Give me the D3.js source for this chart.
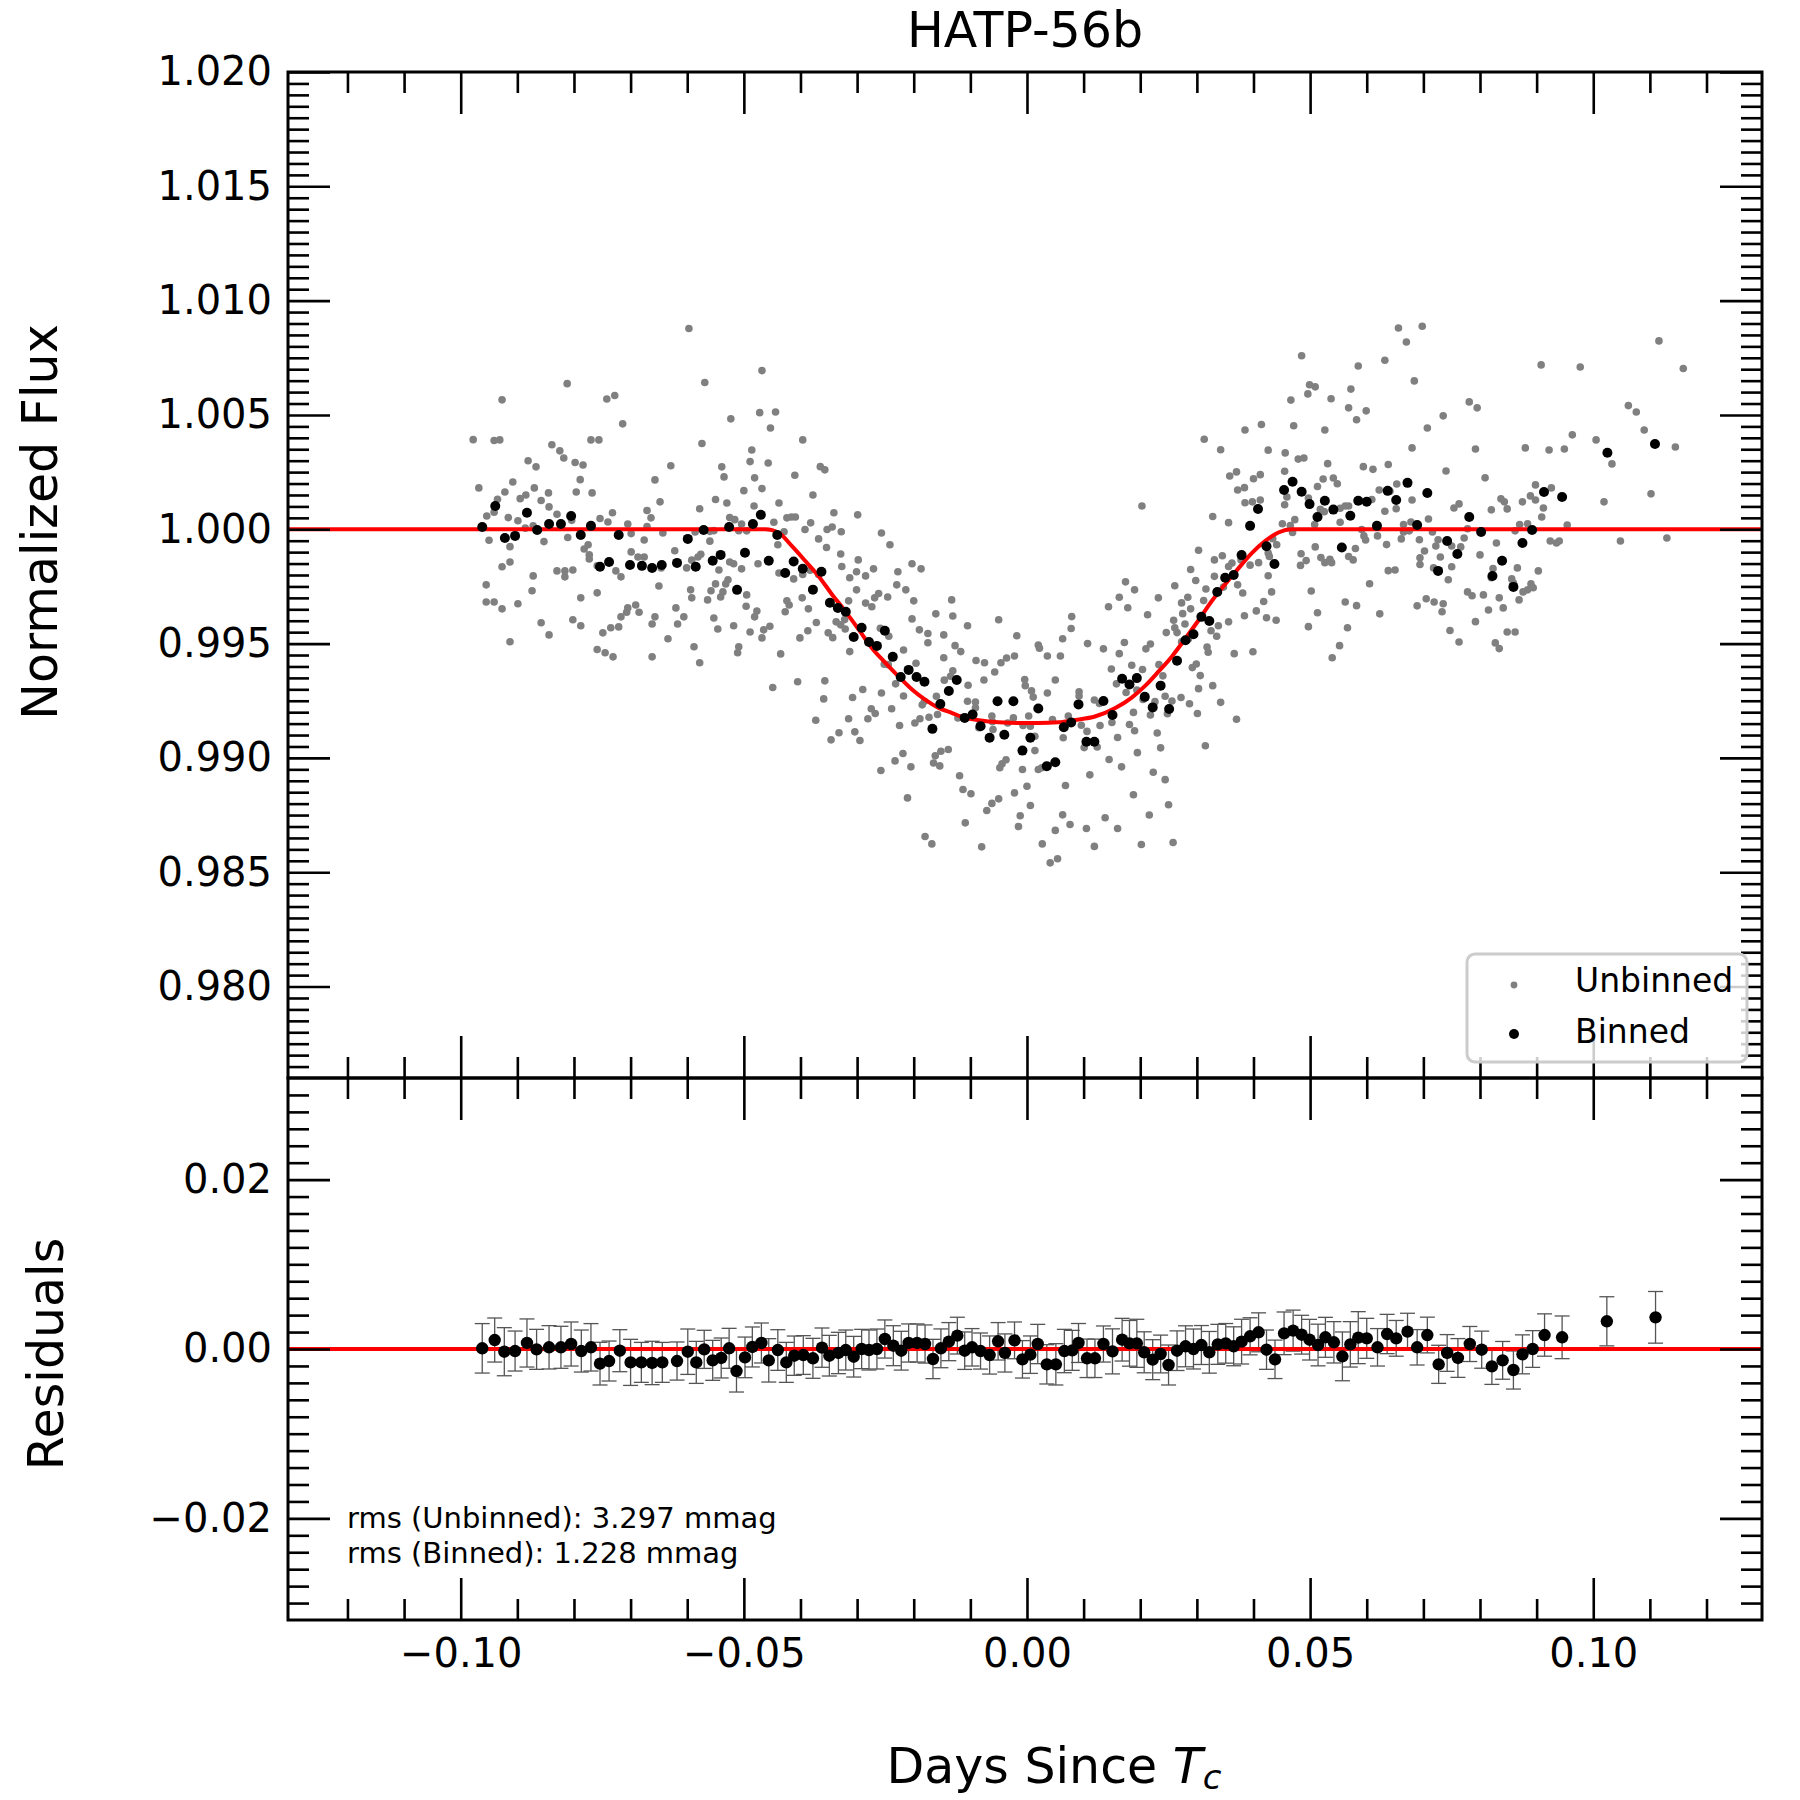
<!DOCTYPE html>
<html><head><meta charset="utf-8">
<script src="https://cdn.jsdelivr.net/npm/d3@7"></script>
<style>body{margin:0;background:#fff} svg{display:block} text{font-family:"DejaVu Sans",sans-serif}</style>
</head><body><svg id="c" width="1800" height="1800"></svg>
<script>
const titleText = "HATP-56b";
const xLim = [-0.1305, 0.1298];
const fluxLim = [0.976, 1.020];
const resLim = [-0.032, 0.032];
const xTicks = [-0.10, -0.05, 0.00, 0.05, 0.10];
const fluxTicks = [0.980, 0.985, 0.990, 0.995, 1.000, 1.005, 1.010, 1.015, 1.020];
const resTicks = [-0.02, 0.00, 0.02];
const legendLabels = ["Unbinned", "Binned"];
const rmsLines = ["rms (Unbinned): 3.297 mmag", "rms (Binned): 1.228 mmag"];

// unbinned [time, flux]
const unbinned = [
[-0.0597,1.00878],[-0.0468,1.00694],[-0.0569,1.00642],[-0.0812,1.00637],[-0.0927,1.00566],[-0.0728,1.00585],[-0.0742,1.00570],[-0.0472,1.00510],[-0.0523,1.00483],[-0.0714,1.00461],[-0.0978,1.00392],[-0.0941,1.00388],[-0.0931,1.00391],[-0.0770,1.00391],[-0.0756,1.00391],[-0.0574,1.00375],[-0.0839,1.00370],[-0.0825,1.00343],[-0.0486,1.00347],[-0.0818,1.00312],[-0.0881,1.00300],[-0.0489,1.00296],[-0.0867,1.00273],[-0.0798,1.00292],[-0.0784,1.00281],[-0.0629,1.00278],[-0.0539,1.00273],[-0.0535,1.00229],[-0.0481,1.00225],[-0.0789,1.00217],[-0.0657,1.00216],[-0.0968,1.00181],[-0.0908,1.00207],[-0.0922,1.00163],[-0.0870,1.00181],[-0.0845,1.00159],[-0.0796,1.00163],[-0.0768,1.00159],[-0.0500,1.00169],[-0.0468,1.00178],[-0.0895,1.00134],[-0.0885,1.00150],[-0.0935,1.00131],[-0.0858,1.00126],[-0.0550,1.00130],[-0.0530,1.00115],[-0.0648,1.00120],[-0.0482,1.00102],[-0.0941,1.00075],[-0.0844,1.00098],[-0.0954,1.00058],[-0.0830,1.00066],[-0.0732,1.00072],[-0.0671,1.00082],[-0.0664,1.00050],[-0.0578,1.00090],[-0.0916,1.00051],[-0.0899,1.00037],[-0.0754,1.00047],[-0.0740,1.00032],[-0.0525,1.00051],[-0.0516,1.00042],[-0.0504,1.00023],[-0.0886,1.00005],[-0.0872,1.00015],[-0.0804,1.00039],[-0.0705,1.00023],[-0.0671,1.00012],[-0.0509,0.99994],[-0.0495,0.99993],[-0.0643,0.99984],[-0.0586,0.99988],[-0.0560,0.99991],[-0.0553,0.99994],[-0.0950,0.99952],[-0.0853,0.99946],[-0.0811,0.99964],[-0.0699,0.99981],[-0.0676,0.99953],[-0.0913,0.99924],[-0.0775,0.99932],[-0.0782,0.99914],[-0.0773,0.99888],[-0.0773,0.99870],[-0.0622,0.99906],[-0.0699,0.99901],[-0.0687,0.99879],[-0.0676,0.99879],[-0.0576,0.99891],[-0.0581,0.99879],[-0.0592,0.99865],[-0.0560,0.99948],[-0.0927,0.99836],[-0.0913,0.99857],[-0.0830,0.99818],[-0.0816,0.99818],[-0.0816,0.99792],[-0.0802,0.99822],[-0.0759,0.99840],[-0.0726,0.99818],[-0.0717,0.99792],[-0.0646,0.99831],[-0.0601,0.99831],[-0.0544,0.99822],[-0.0525,0.99857],[-0.0518,0.99849],[-0.0504,0.99827],[-0.0475,0.99849],[-0.0872,0.99796],[-0.0955,0.99757],[-0.0650,0.99752],[-0.0594,0.99735],[-0.0550,0.99761],[-0.0537,0.99726],[-0.0528,0.99779],[-0.0532,0.99761],[-0.0874,0.99731],[-0.0955,0.99682],[-0.0941,0.99682],[-0.0927,0.99652],[-0.0899,0.99674],[-0.0788,0.99700],[-0.0759,0.99722],[-0.0592,0.99700],[-0.0564,0.99691],[-0.0558,0.99731],[-0.0541,0.99704],[-0.0495,0.99713],[-0.0496,0.99663],[-0.0705,0.99656],[-0.0691,0.99669],[-0.0685,0.99637],[-0.0707,0.99637],[-0.0717,0.99617],[-0.0620,0.99656],[-0.0657,0.99617],[-0.0606,0.99617],[-0.0477,0.99642],[-0.0481,0.99617],[-0.0858,0.99591],[-0.0802,0.99604],[-0.0788,0.99578],[-0.0749,0.99547],[-0.0735,0.99569],[-0.0721,0.99573],[-0.0662,0.99586],[-0.0617,0.99586],[-0.0553,0.99612],[-0.0546,0.99564],[-0.0518,0.99578],[-0.0489,0.99551],[-0.0465,0.99560],[-0.0468,0.99525],[-0.0913,0.99508],[-0.0844,0.99538],[-0.0634,0.99521],[-0.0759,0.99474],[-0.0745,0.99460],[-0.0731,0.99442],[-0.0662,0.99442],[-0.0588,0.99486],[-0.0578,0.99416],[-0.0509,0.99486],[-0.0511,0.99460],
[-0.0444,1.00513],[-0.0453,1.00443],[-0.0396,1.00391],[-0.0457,1.00290],[-0.0365,1.00274],[-0.0357,1.00260],[-0.0410,1.00236],[-0.0378,1.00150],[-0.0438,1.00115],[-0.0341,1.00072],[-0.0299,1.00063],[-0.0424,1.00050],[-0.0416,1.00054],[-0.0409,1.00054],[-0.0447,1.00031],[-0.0382,1.00028],[-0.0392,0.99999],[-0.0353,0.99999],[-0.0344,1.00010],[-0.0328,0.99989],[-0.0429,0.99989],[-0.0257,0.99984],[-0.0440,0.99932],[-0.0368,0.99958],[-0.0354,0.99920],[-0.0242,0.99932],[-0.0329,0.99892],[-0.0298,0.99866],[-0.0327,0.99837],[-0.0203,0.99849],[-0.0187,0.99827],[-0.0438,0.99809],[-0.0412,0.99783],[-0.0396,0.99802],[-0.0383,0.99821],[-0.0368,0.99802],[-0.0301,0.99814],[-0.0285,0.99796],[-0.0271,0.99827],[-0.0313,0.99788],[-0.0228,0.99814],[-0.0230,0.99757],[-0.0214,0.99735],[-0.0301,0.99735],[-0.0246,0.99704],[-0.0262,0.99719],[-0.0269,0.99700],[-0.0200,0.99687],[-0.0133,0.99691],[-0.0397,0.99700],[-0.0424,0.99687],[-0.0420,0.99669],[-0.0427,0.99639],[-0.0386,0.99652],[-0.0315,0.99687],[-0.0285,0.99677],[-0.0274,0.99661],[-0.0161,0.99630],[-0.0131,0.99621],[-0.0050,0.99604],[0.0079,0.99618],[-0.0203,0.99608],[-0.0105,0.99578],[-0.0454,0.99576],[-0.0372,0.99592],[-0.0387,0.99556],[-0.0401,0.99525],[-0.0337,0.99595],[-0.0322,0.99605],[-0.0329,0.99582],[-0.0321,0.99564],[-0.0351,0.99547],[-0.0343,0.99526],[-0.0313,0.99465],[-0.0259,0.99567],[-0.0244,0.99532],[-0.0190,0.99560],[-0.0175,0.99544],[-0.0175,0.99504],[-0.0147,0.99538],[0.0078,0.99566],[-0.0018,0.99534],[0.0063,0.99521],[-0.0127,0.99491],[-0.0117,0.99465],[0.0020,0.99494],[0.0022,0.99480],[-0.0218,0.99472],[-0.0435,0.99455],[-0.0147,0.99438],[-0.0036,0.99437],[-0.0022,0.99446],[0.0036,0.99446],[0.0059,0.99446],[-0.0252,0.99410],[-0.0245,0.99408],[-0.0196,0.99414],[-0.0090,0.99426],[-0.0075,0.99416],[-0.0046,0.99416],[-0.0057,0.99376],[-0.0131,0.99381],[-0.0135,0.99357],[-0.0146,0.99340],[-0.0104,0.99318],[-0.0076,0.99341],[-0.0004,0.99343],[-0.0003,0.99316],[0.0050,0.99341],[0.0008,0.99293],[0.0011,0.99266],[0.0036,0.99284],[-0.0357,0.99337],[-0.0405,0.99333],[-0.0449,0.99308],[-0.0359,0.99258],[-0.0308,0.99264],[-0.0290,0.99299],[-0.0257,0.99284],[-0.0232,0.99324],[-0.0218,0.99271],[-0.0239,0.99215],[-0.0185,0.99232],[-0.0181,0.99248],[-0.0160,0.99270],[-0.0158,0.99190],[-0.0173,0.99178],[-0.0189,0.99171],[-0.0198,0.99153],[-0.0105,0.99248],[-0.0091,0.99244],[-0.0091,0.99219],[-0.0122,0.99175],[-0.0062,0.99183],[-0.0061,0.99158],[-0.0060,0.99124],[-0.0085,0.99132],[-0.0024,0.99175],[-0.0007,0.99142],[0.0006,0.99139],[0.0014,0.99095],[0.0014,0.99032],[0.0003,0.99183],[0.0045,0.99168],[0.0064,0.99088],[0.0073,0.99183],[-0.0034,0.99153],[-0.0275,0.99215],[-0.0268,0.99194],[-0.0281,0.99171],[-0.0315,0.99171],[-0.0373,0.99165],[-0.0332,0.99110],[-0.0346,0.99079],[-0.0304,0.99114],[-0.0295,0.99076],[-0.0225,0.99142],[-0.0219,0.99019],[-0.0233,0.98987],[-0.0205,0.98961],[-0.0258,0.98945],[-0.0162,0.99009],[-0.0165,0.98978],[-0.0154,0.98965],[-0.0152,0.99029],[-0.0139,0.99037],[-0.0119,0.98922],[-0.0113,0.98862],[-0.0099,0.98843],[-0.0211,0.98825],[-0.0044,0.98974],[-0.0037,0.98992],[-0.0048,0.98957],[-0.0008,0.98949],[0.0000,0.98876],[-0.0022,0.98847],[0.0006,0.98792],[0.0020,0.98949],[0.0026,0.98957],[0.0068,0.98879],[-0.0062,0.98801],[-0.0050,0.98821],[-0.0071,0.98770],[-0.0109,0.98716],[-0.0012,0.98747],[-0.0015,0.98700],[0.0063,0.98751],[0.0076,0.98709],[0.0050,0.98683],[-0.0180,0.98656],[-0.0168,0.98624],[-0.0080,0.98611],[0.0027,0.98624],[0.0041,0.98541],[0.0054,0.98559],
[0.0485,1.00759],[0.0585,1.00714],[0.0499,1.00632],[0.0509,1.00623],[0.0496,1.00592],[0.0572,1.00613],[0.0537,1.00571],[0.0466,1.00565],[0.0568,1.00531],[0.0582,1.00479],[0.0599,1.00518],[0.0471,1.00453],[0.0414,1.00458],[0.0385,1.00434],[0.0526,1.00434],[0.0313,1.00394],[0.0342,1.00348],[0.0426,1.00346],[0.0456,1.00334],[0.0479,1.00307],[0.0489,1.00312],[0.0531,1.00287],[0.0594,1.00274],[0.0611,1.00262],[0.0358,1.00233],[0.0370,1.00251],[0.0400,1.00221],[0.0412,1.00239],[0.0455,1.00254],[0.0513,1.00187],[0.0523,1.00220],[0.0541,1.00224],[0.0548,1.00199],[0.0372,1.00172],[0.0384,1.00182],[0.0622,1.00172],[0.0203,1.00102],[0.0385,1.00116],[0.0398,1.00120],[0.0412,1.00128],[0.0459,1.00141],[0.0455,1.00107],[0.0497,1.00137],[0.0518,1.00087],[0.0525,1.00077],[0.0553,1.00092],[0.0562,1.00102],[0.0568,1.00102],[0.0553,1.00031],[0.0609,1.00130],[0.0328,1.00056],[0.0356,1.00029],[0.0473,1.00042],[0.0508,1.00021],[0.0451,1.00024],[0.0465,1.00016],[0.0469,0.99986],[0.0591,0.99999],[0.0595,0.99971],[0.0598,0.99953],[0.0619,0.99971],[0.0434,0.99959],[0.0441,0.99932],[0.0426,0.99896],[0.0428,0.99881],[0.0409,0.99854],[0.0394,0.99843],[0.0378,0.99866],[0.0484,0.99893],[0.0509,0.99923],[0.0493,0.99863],[0.0483,0.99842],[0.0519,0.99876],[0.0526,0.99854],[0.0535,0.99869],[0.0538,0.99854],[0.0568,0.99881],[0.0576,0.99866],[0.0580,0.99916],[0.0303,0.99908],[0.0331,0.99866],[0.0345,0.99884],[0.0356,0.99837],[0.0362,0.99852],[0.0289,0.99824],[0.0298,0.99776],[0.0331,0.99794],[0.0426,0.99797],[0.0372,0.99757],[0.0347,0.99747],[0.0316,0.99739],[0.0261,0.99753],[0.0174,0.99770],[0.0190,0.99735],[0.0163,0.99703],[0.0232,0.99700],[0.0284,0.99703],[0.0144,0.99661],[0.0178,0.99657],[0.0273,0.99678],[0.0289,0.99652],[0.0312,0.99688],[0.0381,0.99721],[0.0432,0.99726],[0.0418,0.99684],[0.0405,0.99643],[0.0384,0.99622],[0.0356,0.99595],[0.0423,0.99613],[0.0440,0.99602],[0.0502,0.99730],[0.0513,0.99635],[0.0497,0.99574],[0.0562,0.99682],[0.0582,0.99666],[0.0566,0.99569],[0.0552,0.99491],[0.0539,0.99438],[0.0605,0.99762],[0.0623,0.99630],[0.0213,0.99626],[0.0259,0.99602],[0.0261,0.99569],[0.0275,0.99631],[0.0279,0.99586],[0.0246,0.99548],[0.0265,0.99548],[0.0338,0.99578],[0.0335,0.99532],[0.0325,0.99556],[0.0273,0.99508],[0.0285,0.99520],[0.0318,0.99485],[0.0320,0.99462],[0.0366,0.99456],[0.0399,0.99464],[0.0107,0.99500],[0.0135,0.99477],[0.0172,0.99505],[0.0163,0.99456],[0.0210,0.99477],[0.0218,0.99498],[0.0149,0.99389],[0.0158,0.99324],[0.0185,0.99405],[0.0204,0.99387],[0.0233,0.99408],[0.0292,0.99395],[0.0299,0.99411],[0.0306,0.99360],[0.0303,0.99303],[0.0328,0.99316],[0.0240,0.99359],[0.0175,0.99286],[0.0194,0.99297],[0.0092,0.99289],[0.0092,0.99271],[0.0119,0.99253],[0.0128,0.99238],[0.0205,0.99256],[0.0226,0.99246],[0.0244,0.99270],[0.0256,0.99249],[0.0272,0.99264],[0.0287,0.99237],[0.0301,0.99194],[0.0342,0.99243],[0.0370,0.99169],[0.0188,0.99199],[0.0218,0.99188],[0.0248,0.99193],[0.0150,0.99155],[0.0181,0.99146],[0.0190,0.99119],[0.0096,0.99143],[0.0106,0.99116],[0.0129,0.99142],[0.0101,0.99045],[0.0124,0.99048],[0.0160,0.99089],[0.0195,0.99023],[0.0230,0.99109],[0.0236,0.99044],[0.0315,0.99053],[0.0145,0.98993],[0.0167,0.98961],[0.0111,0.98926],[0.0223,0.98937],[0.0244,0.98905],[0.0188,0.98839],[0.0250,0.98795],[0.0216,0.98750],[0.0138,0.98738],[0.0160,0.98691],[0.0105,0.98691],[0.0119,0.98613],[0.0202,0.98621],[0.0258,0.98630],
[0.0656,1.00880],[0.0698,1.00888],[0.0670,1.00819],[0.0632,1.00739],[0.0684,1.00649],[0.1116,1.00824],[0.0908,1.00719],[0.0977,1.00710],[0.1159,1.00703],[0.0781,1.00557],[0.0795,1.00531],[0.0735,1.00496],[0.1062,1.00541],[0.1076,1.00513],[0.0707,1.00443],[0.1090,1.00434],[0.0963,1.00413],[0.1005,1.00391],[0.0680,1.00356],[0.0792,1.00351],[0.0880,1.00356],[0.0922,1.00347],[0.0949,1.00351],[0.1145,1.00360],[0.1033,1.00286],[0.0638,1.00283],[0.0740,1.00255],[0.0809,1.00225],[0.0653,1.00198],[0.0641,1.00166],[0.0898,1.00194],[0.0926,1.00181],[0.0680,1.00128],[0.0837,1.00133],[0.0843,1.00120],[0.0889,1.00146],[0.0898,1.00128],[0.0875,1.00120],[0.1019,1.00120],[0.1102,1.00155],[0.0754,1.00093],[0.0763,1.00111],[0.0820,1.00085],[0.0848,1.00089],[0.0912,1.00093],[0.0632,1.00079],[0.0652,1.00090],[0.0909,1.00054],[0.0709,1.00045],[0.0665,1.00021],[0.0678,1.00032],[0.0954,1.00019],[0.0870,1.00021],[0.0884,1.00024],[0.0716,0.99988],[0.0778,1.00002],[0.0862,0.99993],[0.0665,0.99988],[0.0675,0.99993],[0.0661,0.99958],[0.0693,0.99954],[0.0726,0.99954],[0.0772,0.99962],[0.0635,0.99933],[0.0702,0.99905],[0.0722,0.99927],[0.0730,0.99879],[0.0750,0.99927],[0.0766,0.99923],[0.0829,0.99940],[0.0800,0.99888],[0.0924,0.99949],[0.0935,0.99940],[0.0940,0.99949],[0.1048,0.99949],[0.1130,0.99962],[0.0694,0.99875],[0.0694,0.99846],[0.0638,0.99819],[0.0650,0.99822],[0.0718,0.99831],[0.0750,0.99836],[0.0744,0.99779],[0.0823,0.99828],[0.0866,0.99831],[0.0903,0.99818],[0.0820,0.99788],[0.0856,0.99783],[0.0859,0.99765],[0.0876,0.99726],[0.0884,0.99735],[0.0890,0.99761],[0.0894,0.99744],[0.0778,0.99726],[0.0786,0.99709],[0.0806,0.99713],[0.0834,0.99700],[0.0841,0.99656],[0.0869,0.99691],[0.0689,0.99665],[0.0705,0.99696],[0.0719,0.99682],[0.0735,0.99674],[0.0733,0.99639],[0.0815,0.99647],[0.0792,0.99596],[0.0747,0.99557],[0.0763,0.99507],[0.0848,0.99551],[0.0862,0.99551],[0.0827,0.99503],[0.0834,0.99478]
];

// binned [time, flux]
const binned = [
[-0.0962,1.00010],[-0.0939,1.00102],[-0.0922,0.99962],[-0.0904,0.99971],[-0.0883,1.00072],[-0.0865,0.99997],[-0.0844,1.00023],[-0.0823,1.00023],[-0.0805,1.00058],[-0.0788,0.99975],[-0.0770,1.00015],[-0.0754,0.99836],[-0.0738,0.99857],[-0.0721,0.99975],[-0.0701,0.99844],[-0.0680,0.99840],[-0.0662,0.99831],[-0.0645,0.99844],[-0.0618,0.99853],[-0.0599,0.99958],[-0.0585,0.99836],[-0.0571,0.99997],[-0.0555,0.99862],[-0.0541,0.99888],[-0.0526,1.00010],[-0.0512,0.99735],[-0.0498,0.99897],[-0.0484,1.00023],[-0.0470,1.00063],[-0.0456,0.99862],
[-0.0441,0.99975],[-0.0427,0.99809],[-0.0412,0.99859],[-0.0396,0.99827],[-0.0378,0.99736],[-0.0363,0.99814],[-0.0348,0.99679],[-0.0334,0.99656],[-0.0320,0.99639],[-0.0306,0.99529],[-0.0292,0.99569],[-0.0279,0.99507],[-0.0265,0.99490],[-0.0251,0.99556],[-0.0237,0.99442],[-0.0223,0.99354],[-0.0209,0.99385],[-0.0195,0.99354],[-0.0181,0.99333],[-0.0167,0.99127],[-0.0153,0.99236],[-0.0138,0.99293],[-0.0124,0.99341],[-0.0110,0.99175],[-0.0096,0.99190],[-0.0082,0.99139],[-0.0066,0.99088],[-0.0052,0.99248],[-0.0040,0.99101],[-0.0024,0.99248],[-0.0008,0.99032],[0.0006,0.99088],[0.0020,0.99216],[0.0035,0.98964],[0.0050,0.98981],[0.0065,0.99134],[0.0078,0.99155],
[0.0091,0.99234],[0.0105,0.99071],[0.0119,0.99071],[0.0135,0.99249],[0.0151,0.99188],[0.0168,0.99346],[0.0181,0.99321],[0.0194,0.99349],[0.0208,0.99267],[0.0222,0.99221],[0.0236,0.99316],[0.0251,0.99214],[0.0265,0.99425],[0.0280,0.99515],[0.0294,0.99541],[0.0308,0.99617],[0.0322,0.99599],[0.0336,0.99726],[0.0350,0.99788],[0.0365,0.99800],[0.0379,0.99887],[0.0394,1.00015],[0.0408,1.00089],[0.0423,0.99926],[0.0437,0.99848],[0.0454,1.00172],[0.0469,1.00208],[0.0485,1.00164],[0.0499,1.00110],[0.0513,1.00054],[0.0526,1.00125],[0.0541,1.00086],[0.0556,0.99920],[0.0571,1.00059],[0.0585,1.00125],[0.0600,1.00120],[0.0618,1.00015],
[0.0637,1.00168],[0.0652,1.00128],[0.0672,1.00203],[0.0689,1.00019],[0.0707,1.00159],[0.0726,0.99818],[0.0742,0.99949],[0.0760,0.99892],[0.0781,1.00054],[0.0802,0.99988],[0.0822,0.99796],[0.0839,0.99862],[0.0859,0.99748],[0.0875,0.99940],[0.0892,0.99997],[0.0913,1.00163],[0.0945,1.00141],[0.1025,1.00335],[0.1109,1.00373]
];

// transit model [time, flux]
const model = [
[-0.1305,1.0],[-0.0462,1.0],[-0.0438,0.99984],[-0.0415,0.99926],[-0.0391,0.99860],[-0.0368,0.99795],[-0.0344,0.99714],[-0.0321,0.99642],[-0.0297,0.99561],[-0.0274,0.99481],[-0.0250,0.99416],[-0.0227,0.99357],[-0.0203,0.99299],[-0.0180,0.99255],[-0.0156,0.99219],[-0.0133,0.99197],[-0.0109,0.99175],[-0.0085,0.99165],[-0.0050,0.99156],[-0.0015,0.99153],[0.0020,0.99153],[0.0056,0.99156],[0.0085,0.99166],[0.0120,0.99181],[0.0156,0.99218],[0.0185,0.99264],[0.0209,0.99316],[0.0232,0.99377],[0.0256,0.99444],[0.0279,0.99520],[0.0303,0.99602],[0.0326,0.99685],[0.0350,0.99760],[0.0373,0.99828],[0.0397,0.99896],[0.0421,0.99949],[0.0444,0.99986],[0.0468,1.0],[0.1298,1.0]
];

// residuals [time, residual, error]
const residuals = [
[-0.0962,0.00008,0.00292],[-0.0940,0.00106,0.00260],[-0.0923,-0.00032,0.00284],[-0.0904,-0.00024,0.00236],[-0.0883,0.00071,0.00284],[-0.0866,-0.00004,0.00236],[-0.0844,0.00020,0.00256],[-0.0823,0.00020,0.00248],[-0.0805,0.00059,0.00260],[-0.0787,-0.00024,0.00248],[-0.0770,0.00020,0.00280],[-0.0754,-0.00173,0.00252],[-0.0738,-0.00142,0.00236],[-0.0719,-0.00020,0.00248],[-0.0700,-0.00158,0.00272],[-0.0681,-0.00158,0.00236],[-0.0662,-0.00165,0.00256],[-0.0644,-0.00158,0.00236],[-0.0618,-0.00142,0.00225],[-0.0599,-0.00032,0.00268],[-0.0584,-0.00158,0.00248],[-0.0570,-0.00004,0.00225],[-0.0555,-0.00134,0.00236],[-0.0540,-0.00106,0.00236],[-0.0526,0.00008,0.00236],[-0.0513,-0.00260,0.00248],[-0.0498,-0.00099,0.00240],[-0.0485,0.00024,0.00236],[-0.0469,0.00071,0.00236],[-0.0456,-0.00134,0.00256],[-0.0440,-0.00012,0.00240],[-0.0425,-0.00158,0.00236],[-0.0411,-0.00079,0.00232],[-0.0395,-0.00071,0.00229],[-0.0378,-0.00110,0.00236],[-0.0362,0.00016,0.00232],[-0.0349,-0.00079,0.00240],[-0.0333,-0.00047,0.00244],[-0.0320,-0.00012,0.00236],[-0.0306,-0.00091,0.00240],[-0.0292,0.00000,0.00232],[-0.0279,-0.00012,0.00236],[-0.0265,0.00000,0.00236],[-0.0251,0.00118,0.00225],[-0.0236,0.00039,0.00236],[-0.0222,-0.00020,0.00229],[-0.0209,0.00071,0.00225],[-0.0194,0.00071,0.00225],[-0.0180,0.00059,0.00225],[-0.0166,-0.00118,0.00232],[-0.0152,0.00008,0.00229],[-0.0138,0.00087,0.00225],[-0.0123,0.00158,0.00217],[-0.0110,-0.00020,0.00221],[-0.0097,0.00020,0.00221],[-0.0082,-0.00024,0.00213],[-0.0066,-0.00071,0.00225],[-0.0051,0.00091,0.00221],[-0.0039,-0.00047,0.00225],[-0.0022,0.00102,0.00217],[-0.0008,-0.00122,0.00221],[0.0006,-0.00067,0.00221],[0.0019,0.00059,0.00232],[0.0035,-0.00181,0.00232],[0.0051,-0.00181,0.00244],[0.0066,-0.00024,0.00256],[0.0080,-0.00016,0.00236],
[0.0091,0.00071,0.00230],[0.0106,-0.00110,0.00227],[0.0120,-0.00110,0.00227],[0.0135,0.00059,0.00213],[0.0151,-0.00028,0.00266],[0.0168,0.00110,0.00252],[0.0181,0.00067,0.00270],[0.0194,0.00067,0.00284],[0.0207,-0.00039,0.00242],[0.0222,-0.00126,0.00236],[0.0236,-0.00059,0.00223],[0.0250,-0.00189,0.00236],[0.0265,-0.00020,0.00234],[0.0280,0.00032,0.00242],[0.0294,0.00000,0.00236],[0.0308,0.00047,0.00230],[0.0322,-0.00039,0.00246],[0.0337,0.00055,0.00236],[0.0351,0.00067,0.00234],[0.0365,0.00032,0.00230],[0.0379,0.00087,0.00264],[0.0394,0.00150,0.00219],[0.0409,0.00197,0.00230],[0.0423,-0.00008,0.00232],[0.0438,-0.00122,0.00227],[0.0454,0.00185,0.00252],[0.0470,0.00217,0.00242],[0.0485,0.00169,0.00229],[0.0499,0.00110,0.00240],[0.0514,0.00047,0.00246],[0.0527,0.00138,0.00236],[0.0542,0.00079,0.00244],[0.0557,-0.00087,0.00288],[0.0571,0.00055,0.00268],[0.0585,0.00134,0.00307],[0.0600,0.00126,0.00236],[0.0619,0.00020,0.00221],[0.0636,0.00177,0.00232],[0.0652,0.00126,0.00211],[0.0672,0.00205,0.00217],[0.0689,0.00020,0.00209],[0.0707,0.00165,0.00211],[0.0727,-0.00181,0.00225],[0.0742,-0.00047,0.00217],[0.0761,-0.00106,0.00229],[0.0782,0.00059,0.00207],[0.0803,-0.00008,0.00219],[0.0821,-0.00205,0.00213],[0.0840,-0.00134,0.00223],[0.0859,-0.00248,0.00225],[0.0875,-0.00063,0.00230],[0.0893,0.00000,0.00217],[0.0914,0.00165,0.00250],[0.0945,0.00138,0.00252],[0.1024,0.00327,0.00290],[0.1110,0.00374,0.00305]
];

// ---------- drawing ----------
const FONT = '"DejaVu Sans", sans-serif';
const svg = d3.select("#c");
const L = 288, R = 1762, T1 = 72, B1 = 1078, B2 = 1620;
const x = d3.scaleLinear().domain(xLim).range([L, R]);
const yF = d3.scaleLinear().domain(fluxLim).range([B1, T1]);
const yR = d3.scaleLinear().domain(resLim).range([B2, B1]);

function minorTicks(lim, step, majors, scale) {
  const out = [];
  const r = scale.range(), lo = Math.min(r[0], r[1]), hi = Math.max(r[0], r[1]);
  for (let i = Math.ceil(lim[0] / step - 1e-9); i <= Math.floor(lim[1] / step + 1e-9); i++) {
    const v = +(i * step).toFixed(6);
    const p = scale(v);
    if (p < lo + 3 || p > hi - 3) continue;
    if (!majors.some(m => Math.abs(m - v) < step / 10)) out.push(v);
  }
  return out;
}
const xMinor = minorTicks(xLim, 0.01, xTicks, x);
const fluxMinor = minorTicks(fluxLim, 0.0005, fluxTicks, yF);
const resMinor = minorTicks(resLim, 0.002, resTicks, yR);

const defs = svg.append("defs");
defs.append("clipPath").attr("id", "clipTop").append("rect").attr("x", L).attr("y", T1).attr("width", R - L).attr("height", B1 - T1);
defs.append("clipPath").attr("id", "clipBot").append("rect").attr("x", L).attr("y", B1).attr("width", R - L).attr("height", B2 - B1);

// ---- top panel data
const gTop = svg.append("g").attr("clip-path", "url(#clipTop)");
gTop.append("g").selectAll("circle").data(unbinned).join("circle")
  .attr("cx", d => x(d[0])).attr("cy", d => yF(d[1])).attr("r", 3.8).attr("fill", "#808080");
const line = d3.line().x(d => x(d[0])).y(d => yF(d[1])).curve(d3.curveMonotoneX);
gTop.append("path").datum(model).attr("d", line).attr("fill", "none").attr("stroke", "#ff0000").attr("stroke-width", 4);
gTop.append("g").selectAll("circle").data(binned).join("circle")
  .attr("cx", d => x(d[0])).attr("cy", d => yF(d[1])).attr("r", 5).attr("fill", "#000");

// ---- bottom panel data
const gBot = svg.append("g").attr("clip-path", "url(#clipBot)");
const eb = gBot.append("g").attr("stroke", "#555").attr("stroke-width", 1.3).attr("fill", "none");
eb.selectAll("line.v").data(residuals).join("line").attr("class", "v")
  .attr("x1", d => x(d[0])).attr("x2", d => x(d[0])).attr("y1", d => yR(d[1] - d[2])).attr("y2", d => yR(d[1] + d[2]));
eb.selectAll("line.t").data(residuals).join("line").attr("class", "t")
  .attr("x1", d => x(d[0]) - 7.5).attr("x2", d => x(d[0]) + 7.5).attr("y1", d => yR(d[1] + d[2])).attr("y2", d => yR(d[1] + d[2]));
eb.selectAll("line.b").data(residuals).join("line").attr("class", "b")
  .attr("x1", d => x(d[0]) - 7.5).attr("x2", d => x(d[0]) + 7.5).attr("y1", d => yR(d[1] - d[2])).attr("y2", d => yR(d[1] - d[2]));
gBot.append("line").attr("x1", x(xLim[0])).attr("x2", x(xLim[1])).attr("y1", yR(0)).attr("y2", yR(0))
  .attr("stroke", "#ff0000").attr("stroke-width", 4);
gBot.append("g").selectAll("circle").data(residuals).join("circle")
  .attr("cx", d => x(d[0])).attr("cy", d => yR(d[1])).attr("r", 6.2).attr("fill", "#000");

// ---- axes
function axis(gen, scale, ticks, size, fmt, tx, ty, pad) {
  const a = gen(scale).tickValues(ticks).tickSize(-size).tickSizeOuter(0).tickPadding(pad || 14).tickFormat(fmt || (() => ""));
  const g = svg.append("g").attr("transform", `translate(${tx},${ty})`).call(a);
  g.select(".domain").remove();
  g.attr("font-family", FONT).attr("font-size", 40);
  g.selectAll(".tick line").attr("stroke", "#000").attr("stroke-width", 2.6);
  g.selectAll(".tick text").attr("fill", "#000");
  return g;
}
const f3 = d3.format(".3f"), f2 = d3.format(".2f");
// top panel
axis(d3.axisLeft, yF, fluxTicks, 42, f3, L, 0, 16);
axis(d3.axisLeft, yF, fluxMinor, 21, null, L, 0);
axis(d3.axisRight, yF, fluxTicks, 42, null, R, 0);
axis(d3.axisRight, yF, fluxMinor, 21, null, R, 0);
axis(d3.axisTop, x, xTicks, 42, null, 0, T1);
axis(d3.axisTop, x, xMinor, 21, null, 0, T1);
axis(d3.axisBottom, x, xTicks, 42, null, 0, B1);
axis(d3.axisBottom, x, xMinor, 21, null, 0, B1);
// bottom panel
axis(d3.axisLeft, yR, resTicks, 42, f2, L, 0, 16);
axis(d3.axisLeft, yR, resMinor, 21, null, L, 0);
axis(d3.axisRight, yR, resTicks, 42, null, R, 0);
axis(d3.axisRight, yR, resMinor, 21, null, R, 0);
axis(d3.axisTop, x, xTicks, 42, null, 0, B1);
axis(d3.axisTop, x, xMinor, 21, null, 0, B1);
axis(d3.axisBottom, x, xTicks, 42, f2, 0, B2, 19);
axis(d3.axisBottom, x, xMinor, 21, null, 0, B2);

// spines
[[T1, B1], [B1, B2]].forEach(([t, b]) => {
  svg.append("rect").attr("x", L).attr("y", t).attr("width", R - L).attr("height", b - t)
    .attr("fill", "none").attr("stroke", "#000").attr("stroke-width", 3);
});

// legend
const lg = svg.append("g");
lg.append("rect").attr("x", 1467).attr("y", 954).attr("width", 280).attr("height", 108).attr("rx", 8)
  .attr("fill", "#fff").attr("fill-opacity", 0.8).attr("stroke", "#cccccc").attr("stroke-width", 3);
lg.append("circle").attr("cx", 1514).attr("cy", 985).attr("r", 3.4).attr("fill", "#808080");
lg.append("circle").attr("cx", 1514).attr("cy", 1034).attr("r", 5).attr("fill", "#000");
lg.append("text").attr("x", 1575).attr("y", 992).attr("font-size", 33).attr("font-family", FONT).text(legendLabels[0]);
lg.append("text").attr("x", 1575).attr("y", 1043).attr("font-size", 33).attr("font-family", FONT).text(legendLabels[1]);

// rms text
rmsLines.forEach((t, i) => {
  svg.append("text").attr("x", 347).attr("y", 1528 + i * 35).attr("font-size", 29).attr("font-family", FONT).text(t);
});

// title and labels
svg.append("text").attr("x", 1025).attr("y", 47).attr("text-anchor", "middle").attr("font-size", 49).attr("font-family", FONT).text(titleText);
svg.append("text").attr("transform", "translate(57,522) rotate(-90)").attr("text-anchor", "middle")
  .attr("font-size", 49).attr("font-family", FONT).text("Normalized Flux");
svg.append("text").attr("transform", "translate(63,1354) rotate(-90)").attr("text-anchor", "middle")
  .attr("font-size", 49).attr("font-family", FONT).text("Residuals");
const xl = svg.append("text").attr("x", 1054).attr("y", 1783).attr("text-anchor", "middle").attr("font-size", 49).attr("font-family", FONT);
xl.append("tspan").text("Days Since ");
xl.append("tspan").attr("font-style", "italic").text("T");
xl.append("tspan").attr("font-style", "italic").attr("font-size", 34).attr("dy", 6).text("c");
</script>
</body></html>
